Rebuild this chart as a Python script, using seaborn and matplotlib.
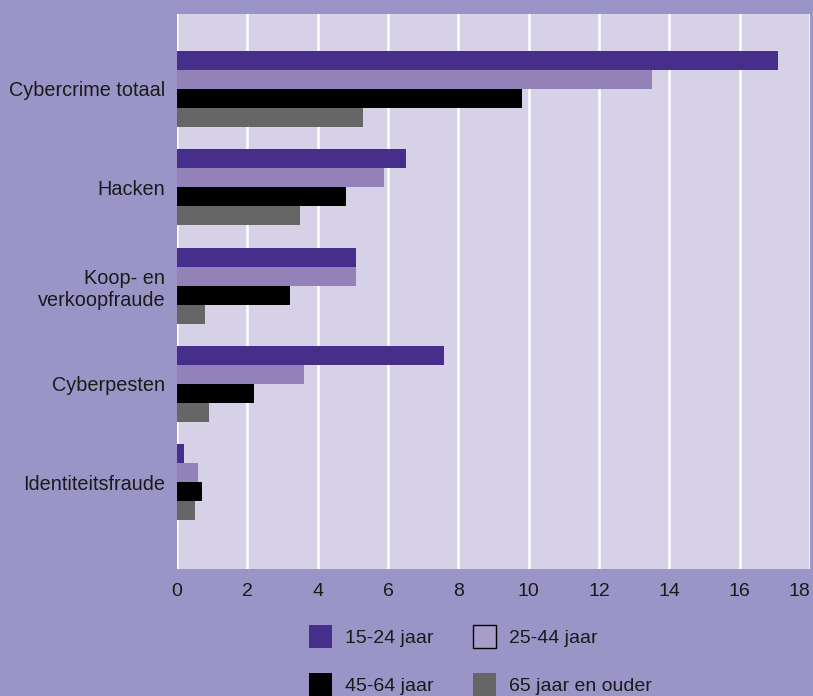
#-------------------------------------------------------------------------------------------
# Slachtofferschap cybercrime naar leeftijd (horizontal grouped bars)
#-------------------------------------------------------------------------------------------

import pandas as pd
import numpy as np
import matplotlib
matplotlib.use("Agg")
import matplotlib.pyplot as plt
import seaborn as sns

#-------------------------------------------------------------------------------------------
# DATA
#-------------------------------------------------------------------------------------------
categories = ["Cybercrime totaal", "Hacken", "Koop- en\nverkoopfraude",
              "Cyberpesten", "Identiteitsfraude"]
age_groups = ["15-24 jaar", "25-44 jaar", "45-64 jaar", "65 jaar en ouder"]

vals_15_24 = [17.1, 6.5, 5.1, 7.6, 0.2]
vals_25_44 = [13.5, 5.9, 5.1, 3.6, 0.6]
vals_45_64 = [9.8, 4.8, 3.2, 2.2, 0.7]
vals_65_up = [5.3, 3.5, 0.8, 0.9, 0.5]

x_ticks = [0, 2, 4, 6, 8, 10, 12, 14, 16, 18]

# Long table for seaborn.
rows = []
for grp, vals in zip(age_groups, [vals_15_24, vals_25_44, vals_45_64, vals_65_up]):
    for cat, v in zip(categories, vals):
        rows.append({"categorie": cat, "leeftijd": grp, "waarde": v})
df = pd.DataFrame(rows)

#-------------------------------------------------------------------------------------------
# STYLE
#-------------------------------------------------------------------------------------------
fig_bg = "#9b95c7"
ax_bg = "#d6d1e6"
colors = ["#462f8a", "#9382b7", "#000000", "#666666"]
text_col = "#1a1a1a"

sns.set_style("white")
plt.rcParams["font.family"] = ["Liberation Sans", "DejaVu Sans"]

#-------------------------------------------------------------------------------------------
# PLOT
#-------------------------------------------------------------------------------------------
fig = plt.figure(figsize=(8.13, 6.96), dpi=100, facecolor=fig_bg)
ax = fig.add_axes([177 / 813, 1 - 569 / 696, (810 - 177) / 813, (569 - 14) / 696])
ax.set_facecolor(ax_bg)

sns.barplot(data=df, y="categorie", x="waarde", hue="leeftijd", orient="h",
            palette=colors, saturation=1, width=0.773, gap=0,
            hue_order=age_groups, order=categories, ax=ax, zorder=3,
            edgecolor="none", linewidth=0)

# Axis ranges and grid.
ax.set_xlim(0, 18)
ax.set_ylim(4.88, -0.76)
ax.set_xticks(x_ticks)
ax.xaxis.grid(True, color="white", linewidth=1.8, zorder=0)
ax.yaxis.grid(False)
ax.set_axisbelow(True)
for s in ax.spines.values():
    s.set_visible(False)

ax.set_xlabel("")
ax.set_ylabel("")
ax.tick_params(axis="y", length=0, pad=8.5, labelsize=14.3, labelcolor=text_col)
ax.tick_params(axis="x", length=0, pad=10, labelsize=14, labelcolor=text_col)
# Last tick label pulled inside the figure.
ax.get_xticklabels()[-1].set_horizontalalignment("right")

# Legend, 2x2 below the chart.
handles, labels = ax.get_legend_handles_labels()
ax.get_legend().remove()
for h in handles:
    h.set_edgecolor("none")
    h.set_linewidth(0)
handles[1].set_facecolor("#a89cc8")
handles[1].set_edgecolor("black")
handles[1].set_linewidth(1.0)
order = [0, 2, 1, 3]
leg = fig.legend([handles[i] for i in order], [labels[i] for i in order],
                 ncol=2, loc="upper left", bbox_to_anchor=(309 / 813, 1 - 625 / 696),
                 frameon=False, handlelength=1.18, handleheight=1.45,
                 handletextpad=0.65, labelspacing=1.3, columnspacing=2.05,
                 borderpad=0, borderaxespad=0, prop={"size": 14})
for t in leg.get_texts():
    t.set_color(text_col)

fig.savefig("out.png", dpi=100, facecolor=fig_bg)
